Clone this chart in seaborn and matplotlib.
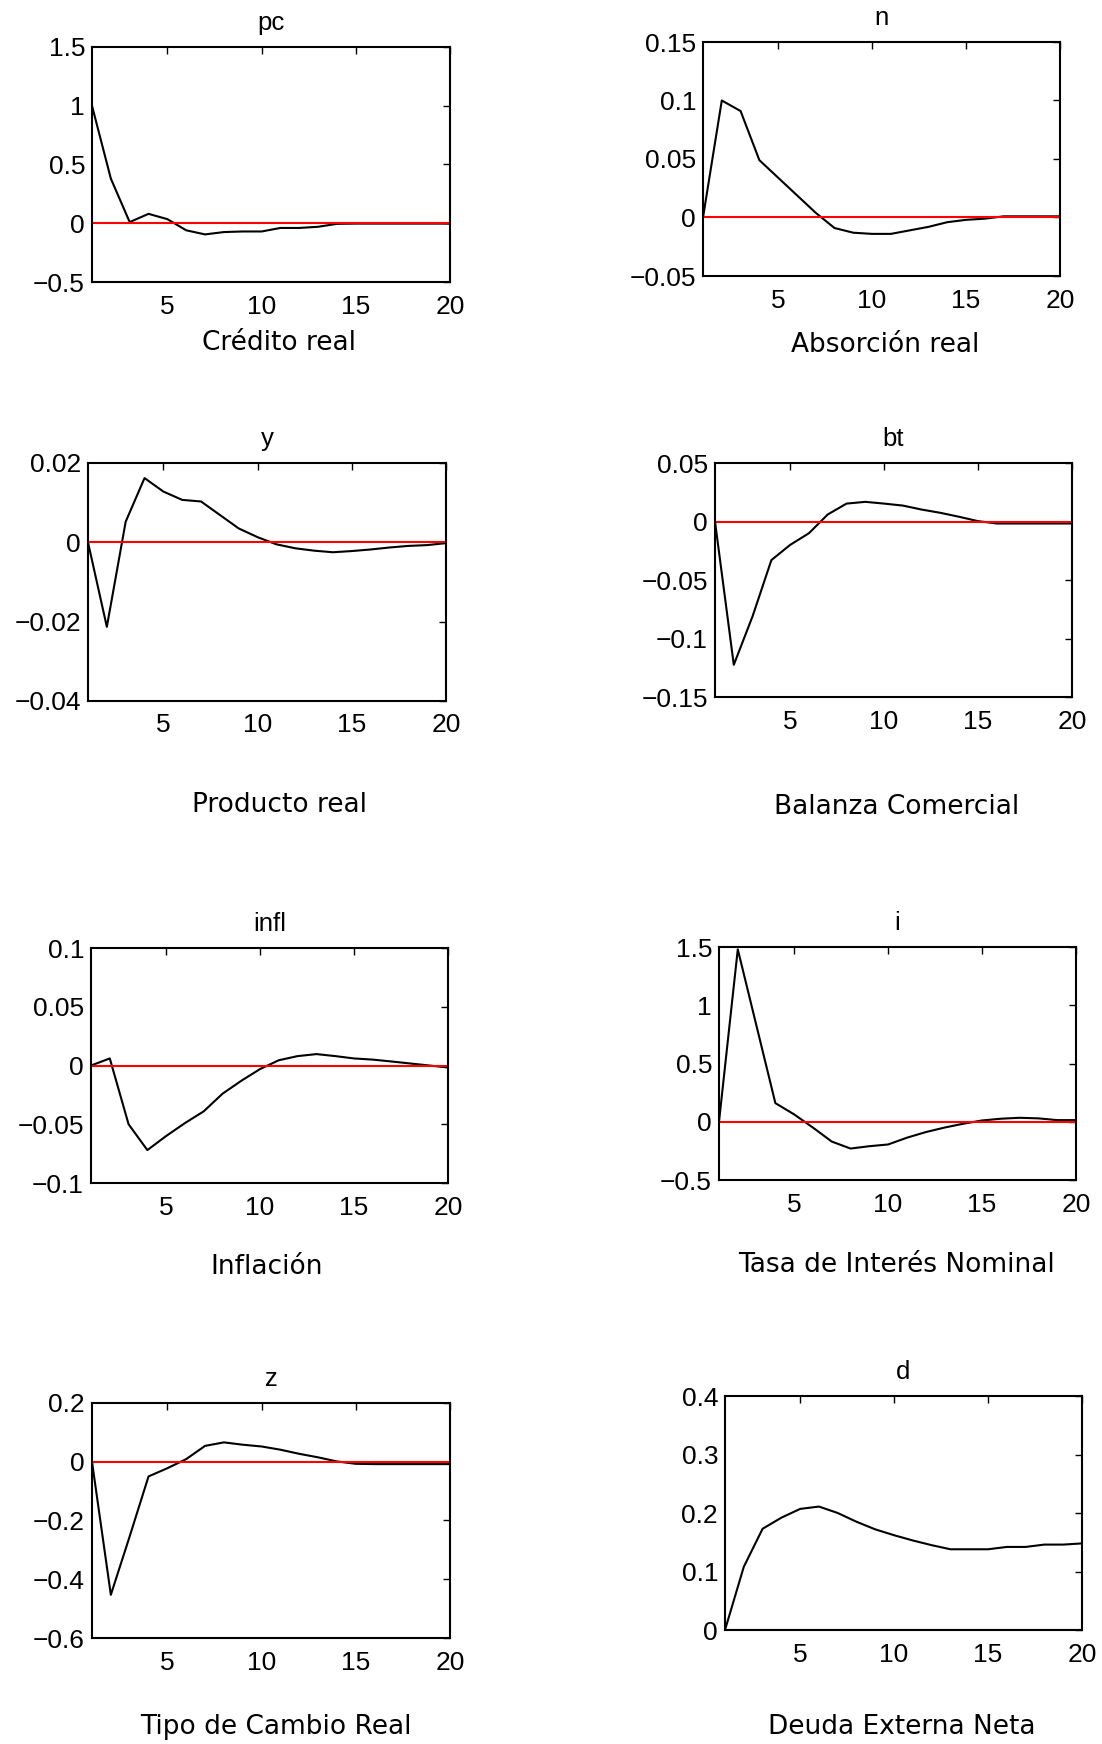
import matplotlib
matplotlib.use("Agg")
import matplotlib.pyplot as plt
import numpy as np
import pandas as pd
import seaborn as sns

# horizonte
periodos = list(range(1, 21))

# respuestas al impulso
pc = [1.0, 0.38, 0.01, 0.08, 0.035, -0.06, -0.095, -0.075, -0.07, -0.07,
      -0.04, -0.04, -0.03, -0.005, -0.003, -0.003, -0.003, -0.003, -0.003, -0.003]
n = [0.0, 0.1, 0.091, 0.049, 0.034, 0.019, 0.004, -0.009, -0.013, -0.014,
     -0.014, -0.011, -0.008, -0.004, -0.002, -0.001, 0.001, 0.001, 0.001, 0.001]
y = [0.0, -0.0213, 0.0052, 0.0162, 0.0128, 0.0107, 0.0103, 0.0069, 0.0035, 0.0013,
     -0.0005, -0.0015, -0.0021, -0.0025, -0.0022, -0.0018, -0.0013, -0.0009, -0.0007, -0.0002]
bt = [0.0, -0.1225, -0.081, -0.033, -0.020, -0.010, 0.006, 0.0153, 0.0168, 0.0153,
      0.0136, 0.0102, 0.0074, 0.004, 0.0003, -0.0017, -0.0017, -0.0017, -0.0017, -0.0017]
infl = [0.0, 0.006, -0.050, -0.072, -0.060, -0.049, -0.039, -0.024, -0.013, -0.003,
        0.0045, 0.008, 0.0097, 0.008, 0.006, 0.005, 0.0034, 0.0017, 0.0, -0.0017]
i = [0.0, 1.48, 0.82, 0.16, 0.063, -0.05, -0.17, -0.23, -0.21, -0.195,
     -0.137, -0.089, -0.05, -0.017, 0.011, 0.026, 0.034, 0.029, 0.014, 0.014]
z = [0.0, -0.453, -0.254, -0.05, -0.022, 0.009, 0.054, 0.066, 0.058, 0.052,
     0.041, 0.027, 0.015, 0.001, -0.007, -0.008, -0.008, -0.008, -0.008, -0.008]
d = [0.0, 0.108, 0.173, 0.192, 0.207, 0.211, 0.2, 0.185, 0.172, 0.162,
     0.153, 0.145, 0.138, 0.138, 0.138, 0.142, 0.142, 0.146, 0.146, 0.148]
cero = [0.0] * 20

titulos = ["pc", "n", "y", "bt", "infl", "i", "z", "d"]
series = [pc, n, y, bt, infl, i, z, d]
etiquetas = ["Crédito real", "Absorción real", "Producto real", "Balanza Comercial",
             "Inflación", "Tasa de Interés Nominal", "Tipo de Cambio Real",
             "Deuda Externa Neta"]
yticks = [
    [-0.5, 0, 0.5, 1, 1.5],
    [-0.05, 0, 0.05, 0.1, 0.15],
    [-0.04, -0.02, 0, 0.02],
    [-0.15, -0.1, -0.05, 0, 0.05],
    [-0.1, -0.05, 0, 0.05, 0.1],
    [-0.5, 0, 0.5, 1, 1.5],
    [-0.6, -0.4, -0.2, 0, 0.2],
    [0, 0.1, 0.2, 0.3, 0.4],
]
xticks = [5, 10, 15, 20]

sns.set_style("white")
plt.rcParams['font.family'] = ['Liberation Sans', 'DejaVu Sans']

W, H = 1102, 1744
fig = plt.figure(figsize=(W / 100, H / 100), dpi=100)

# cajas de los ejes en pixeles: izquierda, derecha, arriba, abajo
cajas = [(92, 450, 47, 282), (703, 1060, 42, 276),
         (88, 446, 463, 701), (715, 1072, 463, 697),
         (91, 448, 948, 1183), (719, 1076, 947, 1180),
         (92, 450, 1403, 1638), (725, 1082, 1396, 1630)]
pos_etiq = [(279, 343), (885, 345), (279, 805), (897, 807),
            (267, 1267), (897, 1265), (276, 1727), (902, 1727)]

for k in range(8):
    l, r, t, b = cajas[k]
    ax = fig.add_axes([l / W, 1 - b / H, (r - l) / W, (b - t) / H])
    df = pd.DataFrame({"t": periodos, "v": series[k], "cero": cero})
    sns.lineplot(data=df, x="t", y="v", color="black", lw=1.5, ax=ax)
    sns.lineplot(data=df, x="t", y="cero", color="red", lw=1.5, ax=ax)
    ax.set_xlim(1, 20)
    yt = yticks[k]
    ax.set_ylim(yt[0], yt[-1])
    ax.set_xticks(xticks)
    ax.set_yticks(yt)
    ax.set_yticklabels([("%g" % v).replace("-", "\u2212") for v in yt])
    ax.set_xlabel("")
    ax.set_ylabel("")
    ax.tick_params(direction="in", top=True, right=True, length=5, width=1,
                   labelsize=19, colors="black")
    ax.tick_params(axis="y", pad=5)
    ax.tick_params(axis="x", pad=9)
    for s in ax.spines.values():
        s.set_color("black")
        s.set_linewidth(1.5)
    ax.set_title(titulos[k], fontsize=18.5, pad=12, color="black")
    ex, ey = pos_etiq[k]
    fig.text(ex / W, 1 - ey / H, etiquetas[k], ha="center", va="center",
             fontsize=19, color="black", family=["DejaVu Sans"])

fig.savefig("out.png", dpi=100, facecolor="white")
